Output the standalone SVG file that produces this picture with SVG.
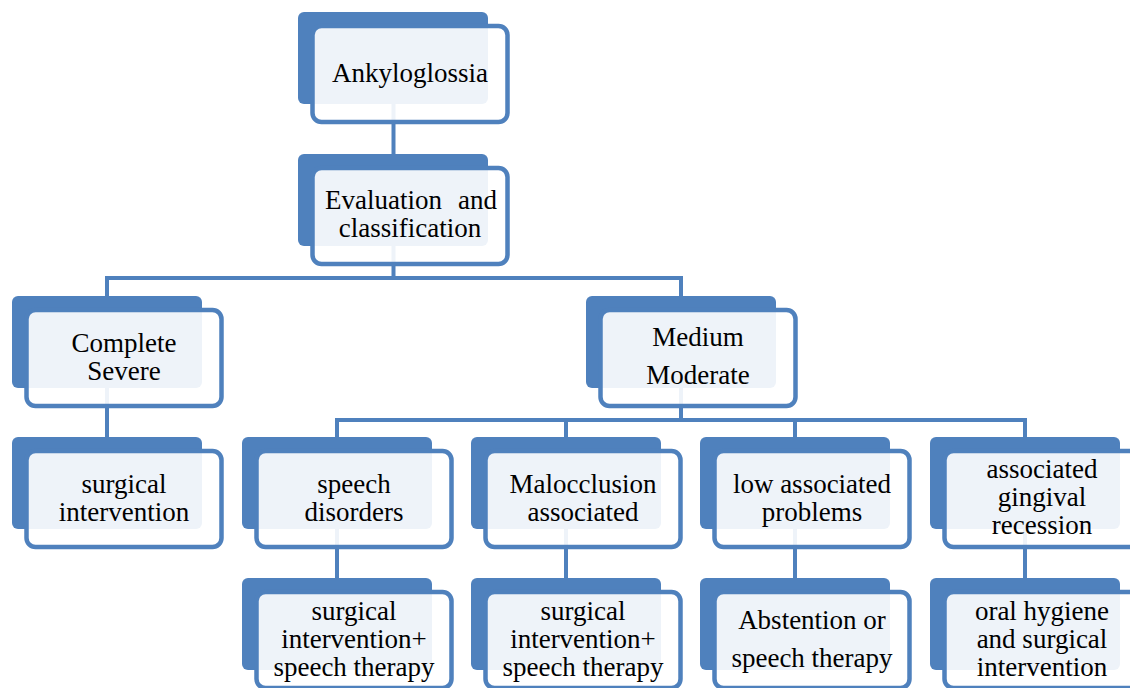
<svg xmlns="http://www.w3.org/2000/svg" width="1130" height="688" viewBox="0 0 1130 688">
<style>
.bk{fill:#4f81bd}
.fr{fill:#ffffff;fill-opacity:0.9;stroke:#4f81bd;stroke-width:4.5}
.t{font-family:"Liberation Serif","Times New Roman",serif;font-size:27px;fill:#000;text-anchor:middle}
.c{fill:none;stroke:#4f81bd;stroke-width:4}
</style>
<rect width="1130" height="688" fill="#ffffff"/>
<g id="connectors" class="c">
<path d="M393.5 104V154"/>
<path d="M393.5 245V278M107 296V278H681V296"/>
<path d="M107 387V437"/>
<path d="M681 387V420M337 437V420H1025V437M566 420V437M795 420V437"/>
<path d="M337 528V578M566 528V578M795 528V578M1025 528V578"/>
</g>
<g id="n1"><rect class="bk" x="298" y="12" width="190" height="92" rx="6"/><rect class="fr" x="312.5" y="26" width="195" height="96" rx="9"/>
<text class="t" x="410" y="82">Ankyloglossia</text></g>
<g id="n2"><rect class="bk" x="298" y="154" width="190" height="92" rx="6"/><rect class="fr" x="312.5" y="168" width="195" height="96" rx="9"/>
<text class="t"><tspan x="325" y="209" style="text-anchor:start">Evaluation</tspan><tspan x="497" y="209" style="text-anchor:end">and</tspan><tspan x="410" y="237">classification</tspan></text></g>
<g id="n3"><rect class="bk" x="12" y="296" width="190" height="92" rx="6"/><rect class="fr" x="26.5" y="310" width="195" height="96" rx="9"/>
<text class="t"><tspan x="124" y="352">Complete</tspan><tspan x="124" y="380">Severe</tspan></text></g>
<g id="n4"><rect class="bk" x="586" y="296" width="190" height="92" rx="6"/><rect class="fr" x="600.5" y="310" width="195" height="96" rx="9"/>
<text class="t"><tspan x="698" y="346">Medium</tspan><tspan x="698" y="384">Moderate</tspan></text></g>
<g id="n5"><rect class="bk" x="12" y="437" width="190" height="92" rx="6"/><rect class="fr" x="26.5" y="451" width="195" height="96" rx="9"/>
<text class="t"><tspan x="124" y="493">surgical</tspan><tspan x="124" y="521">intervention</tspan></text></g>
<g id="n6"><rect class="bk" x="242" y="437" width="190" height="92" rx="6"/><rect class="fr" x="256.5" y="451" width="195" height="96" rx="9"/>
<text class="t"><tspan x="354" y="493">speech</tspan><tspan x="354" y="521">disorders</tspan></text></g>
<g id="n7"><rect class="bk" x="471" y="437" width="190" height="92" rx="6"/><rect class="fr" x="485.5" y="451" width="195" height="96" rx="9"/>
<text class="t"><tspan x="583" y="493">Malocclusion</tspan><tspan x="583" y="521">associated</tspan></text></g>
<g id="n8"><rect class="bk" x="700" y="437" width="190" height="92" rx="6"/><rect class="fr" x="714.5" y="451" width="195" height="96" rx="9"/>
<text class="t"><tspan x="812" y="493">low associated</tspan><tspan x="812" y="521">problems</tspan></text></g>
<g id="n9"><rect class="bk" x="930" y="437" width="190" height="92" rx="6"/><rect class="fr" x="944.5" y="451" width="195" height="96" rx="9"/>
<text class="t"><tspan x="1042" y="478">associated</tspan><tspan x="1042" y="506">gingival</tspan><tspan x="1042" y="534">recession</tspan></text></g>
<g id="n10"><rect class="bk" x="242" y="578" width="190" height="92" rx="6"/><rect class="fr" x="256.5" y="592" width="195" height="96" rx="9"/>
<text class="t"><tspan x="354" y="620">surgical</tspan><tspan x="354" y="648">intervention+</tspan><tspan x="354" y="676">speech therapy</tspan></text></g>
<g id="n11"><rect class="bk" x="471" y="578" width="190" height="92" rx="6"/><rect class="fr" x="485.5" y="592" width="195" height="96" rx="9"/>
<text class="t"><tspan x="583" y="620">surgical</tspan><tspan x="583" y="648">intervention+</tspan><tspan x="583" y="676">speech therapy</tspan></text></g>
<g id="n12"><rect class="bk" x="700" y="578" width="190" height="92" rx="6"/><rect class="fr" x="714.5" y="592" width="195" height="96" rx="9"/>
<text class="t"><tspan x="812" y="629">Abstention or</tspan><tspan x="812" y="667">speech therapy</tspan></text></g>
<g id="n13"><rect class="bk" x="930" y="578" width="190" height="92" rx="6"/><rect class="fr" x="944.5" y="592" width="195" height="96" rx="9"/>
<text class="t"><tspan x="1042" y="620">oral hygiene</tspan><tspan x="1042" y="648">and surgical</tspan><tspan x="1042" y="676">intervention</tspan></text></g>
</svg>
